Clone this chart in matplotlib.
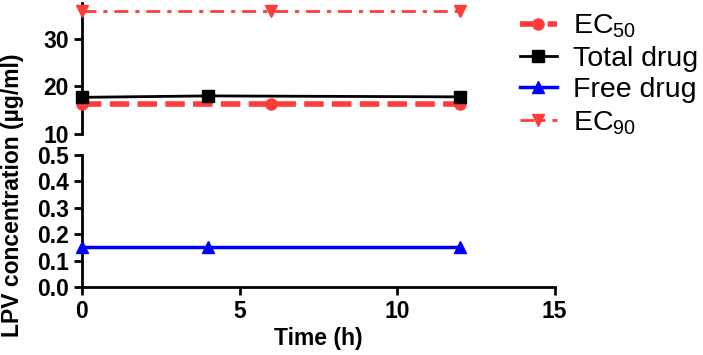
import numpy as np
import matplotlib
matplotlib.use("Agg")
import matplotlib.pyplot as plt

plt.rcParams['font.family'] = ['Liberation Sans', 'DejaVu Sans']
plt.rcParams['mathtext.fontset'] = 'custom'
plt.rcParams['mathtext.rm'] = 'Liberation Sans'
plt.rcParams['mathtext.it'] = 'Liberation Sans'

# data
t_ec = [0, 6, 12]
ec50 = [16.4, 16.4, 16.4]
ec90 = [35.8, 35.8, 35.8]
t_drug = [0, 4, 12]
total_drug = [17.7, 18.0, 17.8]
free_drug = [0.152, 0.152, 0.152]

red = "#ff3b3b"

fig = plt.figure(figsize=(7.03, 3.55), dpi=100)
ax_top = fig.add_axes([0.1166, 0.6225, 0.6724, 0.369])
ax_bot = fig.add_axes([0.1166, 0.1915, 0.6724, 0.372])

h1, = ax_top.plot(t_ec, ec50, color=red, lw=4, ls=(0, (3.5, 1.5)), marker="o", ms=8,
                  label="EC$_{50}$", clip_on=False, zorder=3)
h2, = ax_top.plot(t_drug, total_drug, color="black", lw=2, marker="s", ms=9,
                  label="Total drug", clip_on=False, zorder=4)
h4, = ax_top.plot(t_ec, ec90, color=red, lw=2, ls=(0, (5, 2.5, 1.5, 2.5)), marker="v", ms=8,
                  label="EC$_{90}$", clip_on=False, zorder=3)
h3, = ax_bot.plot(t_drug, free_drug, color="blue", lw=2.5, marker="^", ms=8,
                  label="Free drug", clip_on=False, zorder=3)

for ax in (ax_top, ax_bot):
    ax.set_xlim(0, 15)
    ax.spines['top'].set_visible(False)
    ax.spines['right'].set_visible(False)
    ax.spines['left'].set_linewidth(2)
    ax.spines['bottom'].set_linewidth(2)
    ax.tick_params(width=2, length=6, labelsize=16.5)

ax_top.set_ylim(10, 37.5)
ax_top.set_yticks([10, 20, 30])
ax_top.spines['bottom'].set_visible(False)
ax_top.tick_params(axis="x", bottom=False, labelbottom=False)
for lab in ax_top.get_yticklabels():
    lab.set_fontweight("bold")

ax_bot.set_ylim(0, 0.5)
ax_bot.set_yticks(np.arange(0, 0.51, 0.1))
ax_bot.set_yticklabels(["0.0", "0.1", "0.2", "0.3", "0.4", "0.5"])
ax_bot.set_xticks([0, 5, 10, 15])
for lab in ax_bot.get_yticklabels() + ax_bot.get_xticklabels():
    lab.set_fontweight("bold")
ax_bot.set_xlabel("Time (h)", fontsize=16.5, fontweight="bold", labelpad=3)

fig.text(0.018, 0.45, "LPV concentration (µg/ml)", rotation=90, fontsize=16.5,
         fontweight="bold", ha="center", va="center")

fig.legend(handles=[h1, h2, h3, h4], loc="upper left", bbox_to_anchor=(0.703, 1.037),
           frameon=False, fontsize=20.5, handlelength=1.3, handletextpad=0.55,
           labelspacing=0.2)

plt.savefig("out.png", dpi=100)
